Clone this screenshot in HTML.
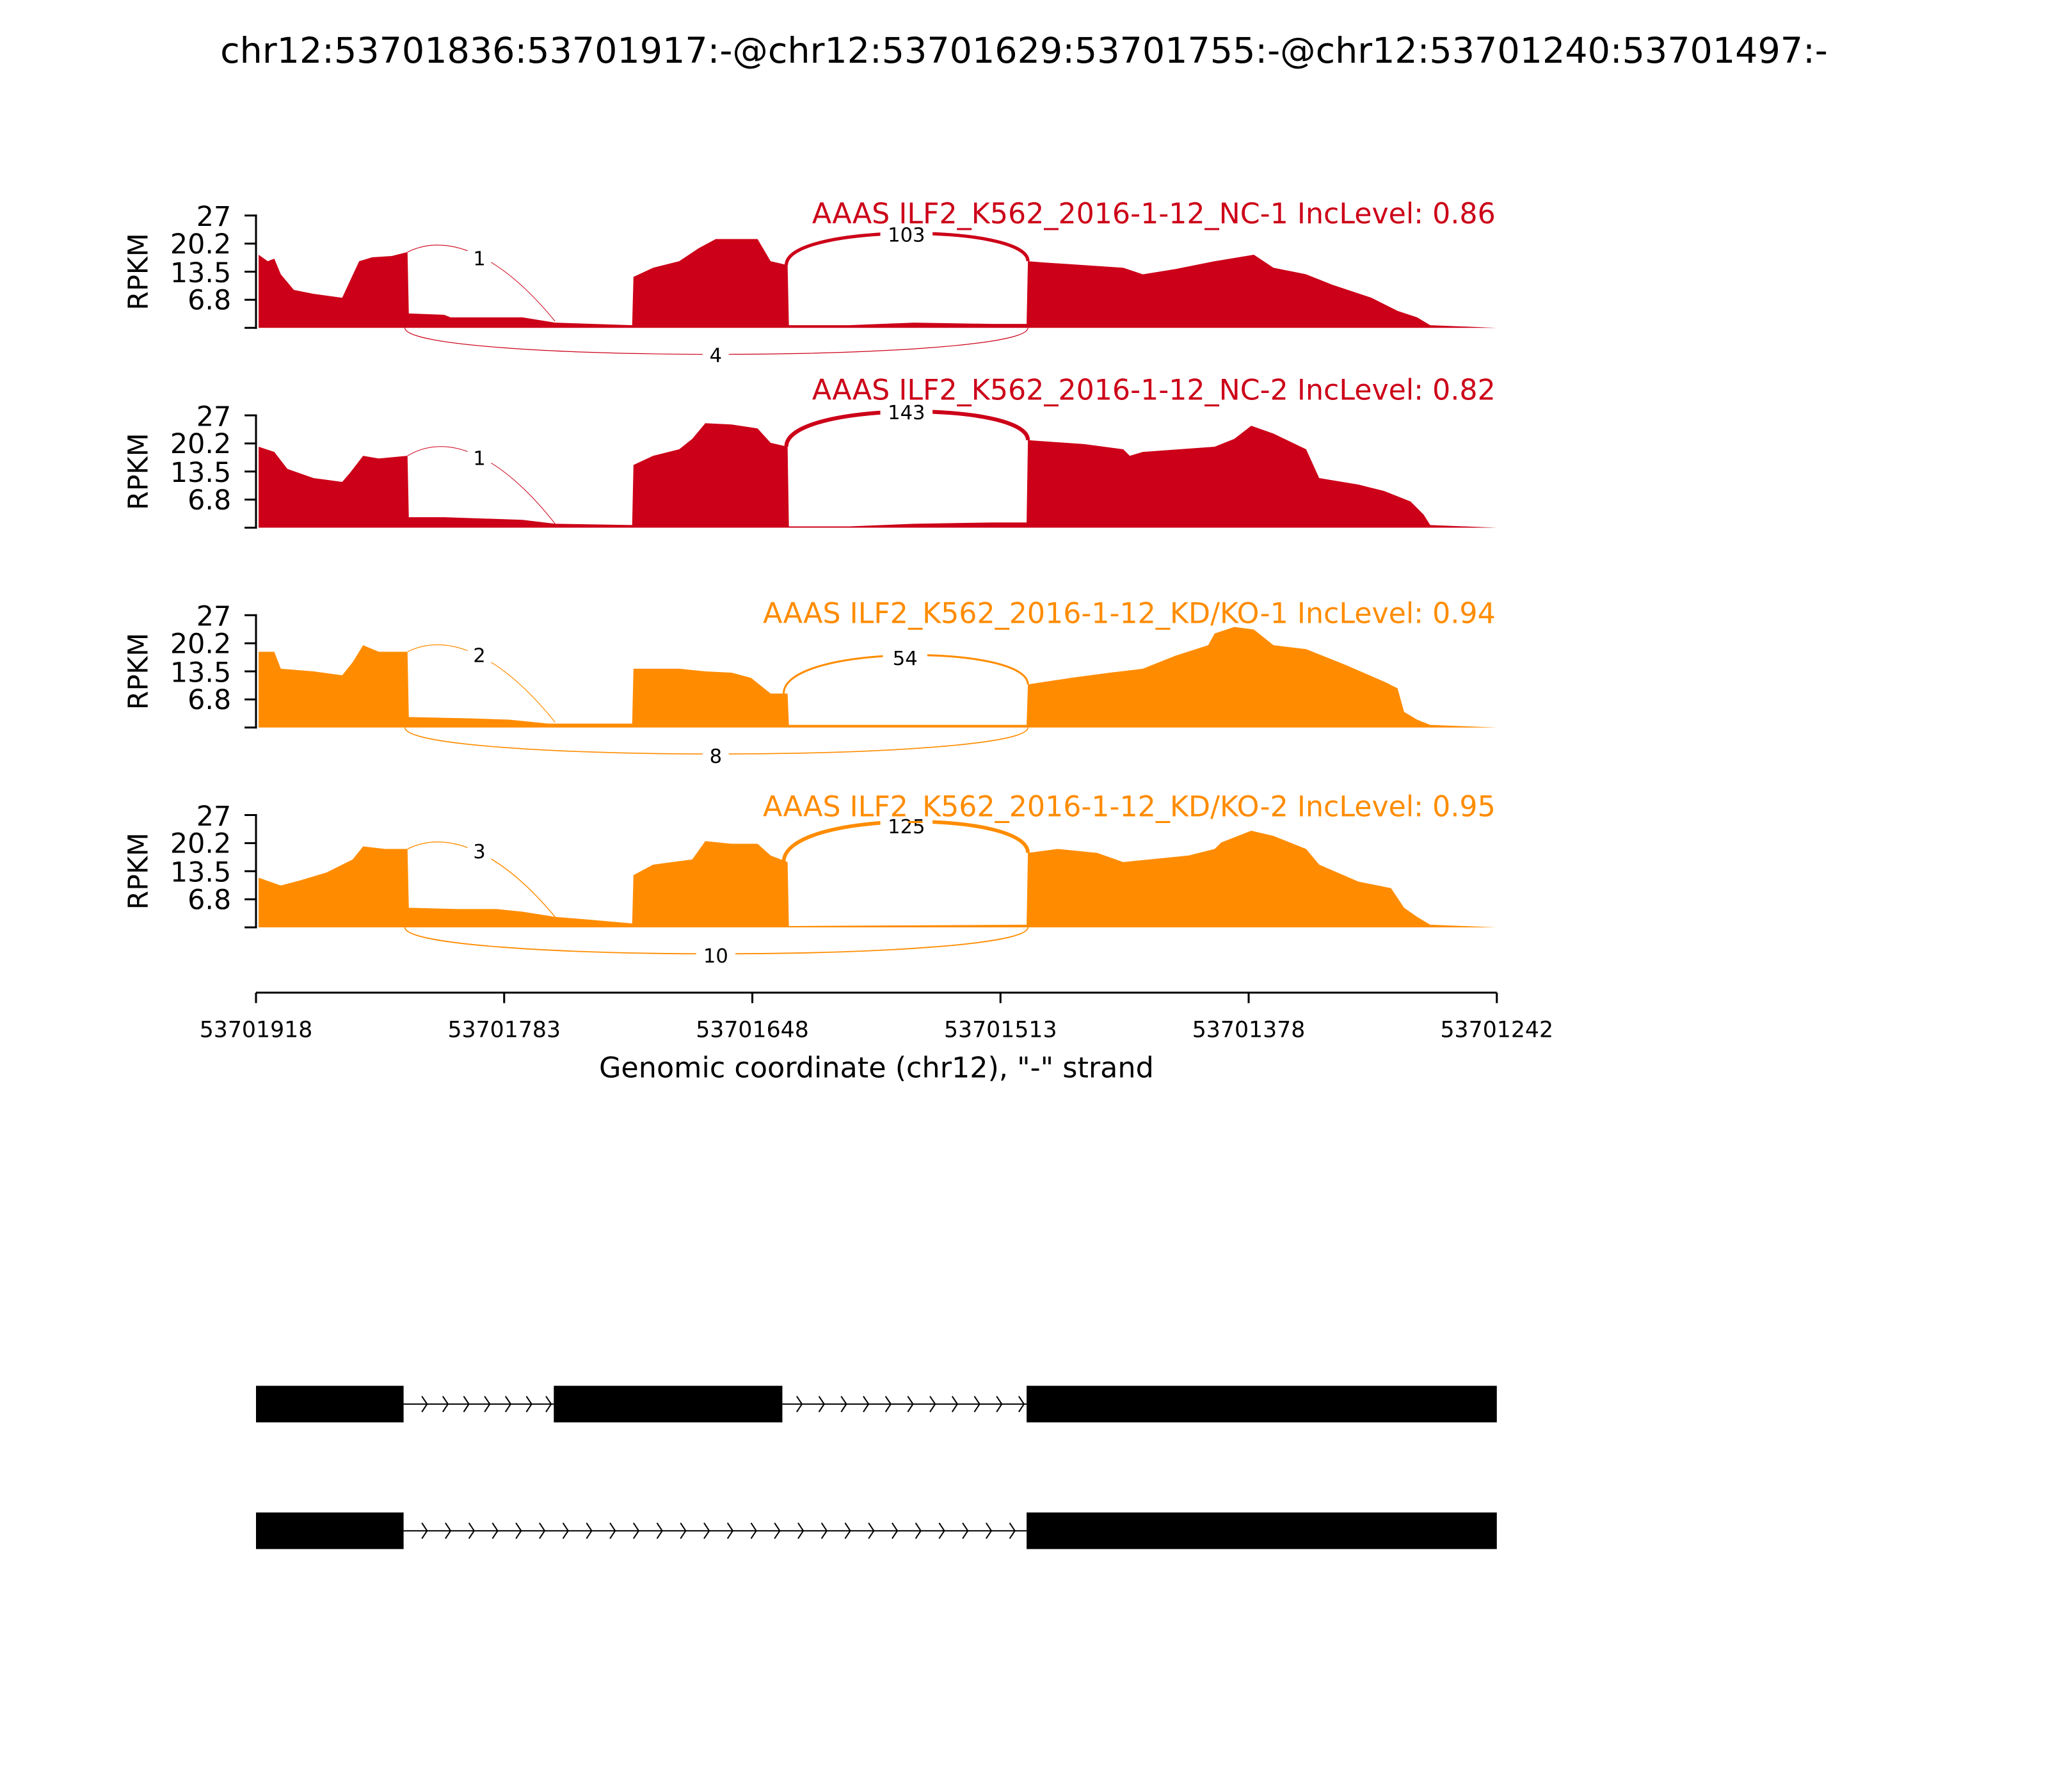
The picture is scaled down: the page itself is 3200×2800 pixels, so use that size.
<!DOCTYPE html>
<html><head><meta charset="utf-8"><style>
html,body{margin:0;padding:0;background:#fff}
svg{display:block}
text{font-family:"DejaVu Sans","Liberation Sans",sans-serif}
</style></head><body>
<svg width="3200" height="2800" viewBox="0 0 1568 1372" xmlns="http://www.w3.org/2000/svg">
<rect width="1568" height="1372" fill="#fff"/>
<text x="784" y="48" font-size="27.2" text-anchor="middle">chr12:53701836:53701917:-@chr12:53701629:53701755:-@chr12:53701240:53701497:-</text>

<!-- Panel 1 -->
<g transform="translate(0,251)">
<polygon fill="#cc0018" points="198,0 198,-56 205,-51 210,-53 215,-41 225,-29 240,-26 262,-23 268,-36 275,-51 285,-54 300,-55 312,-58 313,-11 340,-10 345,-8 400,-8 425,-4 484,-2 485,-39 500,-46 520,-51 535,-61 548,-68 580,-68 590,-51 603,-48 604,-2 650,-2 700,-4 760,-3 786,-3 787,-51 800,-50 830,-48 860,-46 875,-41 900,-45 930,-51 960,-56 975,-46 1000,-41 1020,-33 1050,-23 1070,-13 1085,-8 1095,-2 1146,0"/>
<path d="M312,-58 C340,-72 380,-60 425,-5" fill="none" stroke="#cc0018" stroke-width="0.5"/>
<rect x="358" y="-62" width="18" height="14" fill="#fff"/><text x="367" y="-48" font-size="15" text-anchor="middle">1</text>
<path d="M602,-48 C602,-80 787,-80 787,-51" fill="none" stroke="#cc0018" stroke-width="2.5"/>
<rect x="674" y="-80" width="40" height="14" fill="#fff"/><text x="694" y="-66" font-size="15" text-anchor="middle">103</text>
<path d="M310,0 C310,27 787,27 787,0" fill="none" stroke="#cc0018" stroke-width="0.6"/>
<rect x="538" y="14" width="20" height="15" fill="#fff"/><text x="548" y="26" font-size="15" text-anchor="middle">4</text>
</g>
<!-- Panel 2 -->
<g transform="translate(0,404)">
<polygon fill="#cc0018" points="198,0 198,-62 210,-58 220,-45 240,-38 262,-35 268,-42 278,-55 290,-53 312,-55 313,-8 340,-8 400,-6 425,-3 484,-2 485,-48 500,-55 520,-60 530,-68 540,-80 560,-79 580,-76 590,-65 603,-62 604,-1 650,-1 700,-3 760,-4 786,-4 787,-67 830,-64 860,-60 865,-55 875,-58 930,-62 945,-68 958,-78 975,-72 1000,-60 1010,-38 1040,-33 1060,-28 1080,-20 1090,-10 1095,-2 1146,0"/>
<path d="M312,-55 C340,-72 380,-60 425,-3" fill="none" stroke="#cc0018" stroke-width="0.5"/>
<rect x="358" y="-62" width="18" height="14" fill="#fff"/><text x="367" y="-48" font-size="15" text-anchor="middle">1</text>
<path d="M602,-62 C602,-97 787,-97 787,-67" fill="none" stroke="#cc0018" stroke-width="3"/>
<rect x="674" y="-97" width="40" height="14" fill="#fff"/><text x="694" y="-83" font-size="15" text-anchor="middle">143</text>
</g>
<!-- Panel 3 -->
<g transform="translate(0,557)">
<polygon fill="#ff8c00" points="198,0 198,-58 210,-58 215,-45 240,-43 262,-40 270,-50 278,-63 290,-58 312,-58 313,-8 360,-7 390,-6 420,-3 484,-3 485,-45 520,-45 540,-43 560,-42 575,-38 585,-30 590,-26 603,-26 604,-2 786,-2 787,-33 820,-38 850,-42 875,-45 900,-55 925,-63 930,-72 945,-77 960,-75 975,-63 1000,-60 1030,-48 1060,-35 1070,-30 1075,-12 1085,-6 1095,-2 1146,0"/>
<path d="M312,-58 C340,-72 380,-60 425,-4" fill="none" stroke="#ff8c00" stroke-width="0.6"/>
<rect x="358" y="-62" width="18" height="14" fill="#fff"/><text x="367" y="-50" font-size="15" text-anchor="middle">2</text>
<path d="M600,-26 C600,-64 787,-64 787,-33" fill="none" stroke="#ff8c00" stroke-width="1.5"/>
<rect x="676" y="-61" width="34" height="14" fill="#fff"/><text x="693" y="-48" font-size="15" text-anchor="middle">54</text>
<path d="M310,0 C310,27 787,27 787,0" fill="none" stroke="#ff8c00" stroke-width="0.8"/>
<rect x="538" y="14" width="20" height="15" fill="#fff"/><text x="548" y="27" font-size="15" text-anchor="middle">8</text>
</g>
<!-- Panel 4 -->
<g transform="translate(0,710)">
<polygon fill="#ff8c00" points="198,0 198,-38 215,-32 230,-36 250,-42 270,-52 278,-62 295,-60 312,-60 313,-15 350,-14 380,-14 400,-12 425,-8 450,-6 484,-3 485,-40 500,-48 530,-52 540,-66 560,-64 580,-64 590,-55 603,-50 604,-1 786,-2 787,-57 810,-60 840,-57 860,-50 880,-52 910,-55 930,-60 935,-65 958,-74 975,-70 1000,-60 1010,-48 1040,-35 1065,-30 1075,-15 1085,-8 1095,-2 1146,0"/>
<path d="M312,-60 C340,-74 380,-62 425,-8" fill="none" stroke="#ff8c00" stroke-width="0.7"/>
<rect x="358" y="-66" width="18" height="14" fill="#fff"/><text x="367" y="-53" font-size="15" text-anchor="middle">3</text>
<path d="M600,-50 C600,-90 787,-90 787,-57" fill="none" stroke="#ff8c00" stroke-width="2.8"/>
<rect x="674" y="-84" width="40" height="14" fill="#fff"/><text x="694" y="-72" font-size="15" text-anchor="middle">125</text>
<path d="M310,0 C310,27 787,27 787,0" fill="none" stroke="#ff8c00" stroke-width="0.9"/>
<rect x="533" y="14" width="30" height="15" fill="#fff"/><text x="548" y="27" font-size="15" text-anchor="middle">10</text>
</g>

<!-- Y axes -->
<g font-size="21" text-anchor="end" stroke-linecap="square">
<g transform="translate(0,165)">
<line x1="196" y1="0" x2="196" y2="86" stroke="#000" stroke-width="1.5"/>
<path d="M188,0H196M188,21.5H196M188,43H196M188,64.5H196M188,86H196" stroke="#000" stroke-width="1.5"/>
<text x="177" y="8">27</text><text x="177" y="29">20.2</text><text x="177" y="51">13.5</text><text x="177" y="72">6.8</text>
<text transform="translate(113,43) rotate(-90)" text-anchor="middle">RPKM</text>
<text x="1145" y="6" fill="#cc0018" font-size="21.7">AAAS ILF2_K562_2016-1-12_NC-1 IncLevel: 0.86</text>
</g>
<g transform="translate(0,318)">
<line x1="196" y1="0" x2="196" y2="86" stroke="#000" stroke-width="1.5"/>
<path d="M188,0H196M188,21.5H196M188,43H196M188,64.5H196M188,86H196" stroke="#000" stroke-width="1.5"/>
<text x="177" y="8">27</text><text x="177" y="29">20.2</text><text x="177" y="51">13.5</text><text x="177" y="72">6.8</text>
<text transform="translate(113,43) rotate(-90)" text-anchor="middle">RPKM</text>
<text x="1145" y="-12" fill="#cc0018" font-size="21.7">AAAS ILF2_K562_2016-1-12_NC-2 IncLevel: 0.82</text>
</g>
<g transform="translate(0,471)">
<line x1="196" y1="0" x2="196" y2="86" stroke="#000" stroke-width="1.5"/>
<path d="M188,0H196M188,21.5H196M188,43H196M188,64.5H196M188,86H196" stroke="#000" stroke-width="1.5"/>
<text x="177" y="8">27</text><text x="177" y="29">20.2</text><text x="177" y="51">13.5</text><text x="177" y="72">6.8</text>
<text transform="translate(113,43) rotate(-90)" text-anchor="middle">RPKM</text>
<text x="1145" y="6" fill="#ff8c00" font-size="21.7">AAAS ILF2_K562_2016-1-12_KD/KO-1 IncLevel: 0.94</text>
</g>
<g transform="translate(0,624)">
<line x1="196" y1="0" x2="196" y2="86" stroke="#000" stroke-width="1.5"/>
<path d="M188,0H196M188,21.5H196M188,43H196M188,64.5H196M188,86H196" stroke="#000" stroke-width="1.5"/>
<text x="177" y="8">27</text><text x="177" y="29">20.2</text><text x="177" y="51">13.5</text><text x="177" y="72">6.8</text>
<text transform="translate(113,43) rotate(-90)" text-anchor="middle">RPKM</text>
<text x="1145" y="1" fill="#ff8c00" font-size="21.7">AAAS ILF2_K562_2016-1-12_KD/KO-2 IncLevel: 0.95</text>
</g>
</g>

<!-- X axis -->
<line x1="196" y1="760" x2="1146" y2="760" stroke="#000" stroke-width="1.5"/>
<path d="M196,760V768M386,760V768M576,760V768M766,760V768M956,760V768M1146,760V768" stroke="#000" stroke-width="1.5"/>
<g font-size="17" text-anchor="middle">
<text x="196" y="794">53701918</text><text x="386" y="794">53701783</text><text x="576" y="794">53701648</text>
<text x="766" y="794">53701513</text><text x="956" y="794">53701378</text><text x="1146" y="794">53701242</text>
</g>
<text x="671" y="825" font-size="21.8" text-anchor="middle">Genomic coordinate (chr12), "-" strand</text>

<!-- Gene structures -->
<rect x="196" y="1061" width="113" height="28" fill="#000"/>
<rect x="424" y="1061" width="175" height="28" fill="#000"/>
<rect x="786" y="1061" width="360" height="28" fill="#000"/>
<line x1="309" y1="1075" x2="424" y2="1075" stroke="#000" stroke-width="1"/>
<line x1="599" y1="1075" x2="786" y2="1075" stroke="#000" stroke-width="1"/>
<g fill="none" stroke="#000" stroke-width="1">
<path d="M323,1069l4,6l-4,6M339,1069l4,6l-4,6M355,1069l4,6l-4,6M371,1069l4,6l-4,6M387,1069l4,6l-4,6M403,1069l4,6l-4,6M418,1069l4,6l-4,6"/>
<path d="M610,1069l4,6l-4,6M627,1069l4,6l-4,6M644,1069l4,6l-4,6M661,1069l4,6l-4,6M678,1069l4,6l-4,6M695,1069l4,6l-4,6M712,1069l4,6l-4,6M729,1069l4,6l-4,6M746,1069l4,6l-4,6M763,1069l4,6l-4,6M780,1069l4,6l-4,6"/>
</g>
<rect x="196" y="1158" width="113" height="28" fill="#000"/>
<rect x="786" y="1158" width="360" height="28" fill="#000"/>
<line x1="309" y1="1172" x2="786" y2="1172" stroke="#000" stroke-width="1"/>
<g fill="none" stroke="#000" stroke-width="1">
<path d="M323,1166l4,6l-4,6M341,1166l4,6l-4,6M359,1166l4,6l-4,6M377,1166l4,6l-4,6M395,1166l4,6l-4,6M413,1166l4,6l-4,6M431,1166l4,6l-4,6M449,1166l4,6l-4,6M467,1166l4,6l-4,6M485,1166l4,6l-4,6M503,1166l4,6l-4,6M521,1166l4,6l-4,6M539,1166l4,6l-4,6M557,1166l4,6l-4,6M575,1166l4,6l-4,6M593,1166l4,6l-4,6M611,1166l4,6l-4,6M629,1166l4,6l-4,6M647,1166l4,6l-4,6M665,1166l4,6l-4,6M683,1166l4,6l-4,6M701,1166l4,6l-4,6M719,1166l4,6l-4,6M737,1166l4,6l-4,6M755,1166l4,6l-4,6M773,1166l4,6l-4,6"/>
</g>
</svg>
</body></html>
